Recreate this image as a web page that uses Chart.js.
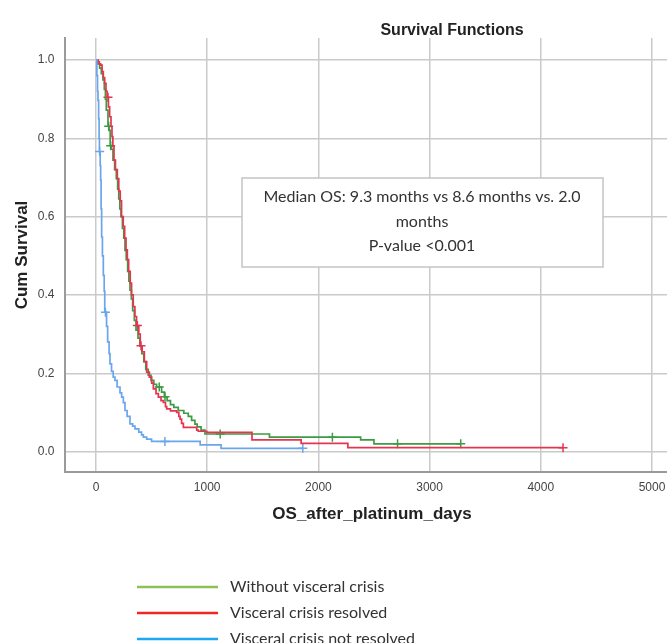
<!DOCTYPE html>
<html>
<head>
<meta charset="utf-8">
<script src="https://cdn.jsdelivr.net/npm/chart.js@4.4.1/dist/chart.umd.min.js"></script>
<style>
  html, body { margin: 0; background: #fff; overflow: hidden; }
  #wrap { width: 667px; height: 643px; position: relative; }
  #wrap canvas { display: block; }
</style>
</head>
<body>
<div id="wrap"><canvas id="myChart"></canvas></div>
<script>
// datos de las curvas (tiempo en dias, supervivencia acumulada)
const seriesNames = ["Without visceral crisis", "Visceral crisis resolved", "Visceral crisis not resolved"];

const greenT = [0,15,33,48,63,75,85,93,108,118,128,140,153,168,183,195,205,215,225,238,250,261,272,285,296,306,318,330,345,360,378,395,412,430,448,470,495,520,545,590,615,640,670,700,740,790,830,860,890,910,945,980,1560,2380,2500,3280];
const greenS = [1,0.99,0.979,0.965,0.949,0.925,0.9,0.872,0.831,0.82,0.781,0.772,0.744,0.72,0.697,0.67,0.645,0.62,0.6,0.57,0.545,0.514,0.49,0.46,0.435,0.412,0.39,0.36,0.335,0.31,0.29,0.27,0.25,0.23,0.21,0.195,0.182,0.172,0.165,0.152,0.14,0.13,0.12,0.113,0.105,0.098,0.09,0.08,0.07,0.063,0.055,0.045,0.037,0.03,0.02,0.02];
const greenCensT = [114,132,569,621,1117,2126,2712,3280];
const greenCensS = [0.831,0.781,0.165,0.14,0.045,0.037,0.02,0.02];

const redT = [0,18,30,42,55,66,78,90,100,112,123,135,144,152,162,175,192,205,218,230,245,258,270,282,294,308,320,335,350,365,385,398,415,435,456,480,501,516,540,561,585,606,625,636,670,726,745,756,770,786,906,920,996,1403,1845,2265,4200];
const redS = [1,0.995,0.99,0.987,0.97,0.955,0.94,0.92,0.905,0.88,0.855,0.83,0.804,0.78,0.744,0.72,0.697,0.665,0.64,0.6,0.575,0.545,0.515,0.49,0.46,0.43,0.4,0.37,0.345,0.322,0.3,0.27,0.255,0.23,0.203,0.19,0.175,0.16,0.148,0.139,0.13,0.126,0.115,0.109,0.104,0.1,0.09,0.083,0.072,0.062,0.055,0.052,0.049,0.03,0.021,0.01,0.01];
const redCensT = [108,372,405,4200];
const redCensS = [0.905,0.322,0.27,0.01];

const blueT = [0,8,14,18,24,28,31,38,42,46,51,58,66,74,79,95,105,118,126,140,155,171,190,216,231,246,261,280,306,330,351,385,410,426,456,500,937,1125,1860];
const blueS = [1,0.96,0.92,0.897,0.85,0.8,0.766,0.73,0.693,0.62,0.548,0.5,0.45,0.41,0.356,0.32,0.28,0.25,0.224,0.205,0.19,0.182,0.165,0.15,0.139,0.125,0.105,0.09,0.071,0.065,0.058,0.05,0.043,0.037,0.032,0.026,0.017,0.0085,0.0085];
const blueCensT = [33,85,620,1860];
const blueCensS = [0.766,0.356,0.026,0.0085];

const xTicks = [0, 1000, 2000, 3000, 4000, 5000];
const yTicks = [0, 0.2, 0.4, 0.6, 0.8, 1.0];

const noteLines = ["Median OS: 9.3 months vs 8.6 months vs. 2.0", "months", "P-value <0.001"];

// colores
const curveColors = ["#3d9a45", "#e4344f", "#6aa6ee"];
const legendColors = ["#8fc055", "#f22424", "#1ea6f0"];

function pts(t, s) {
  return t.map(function (v, i) { return { x: v, y: s[i] }; });
}

function lineSet(t, s, color) {
  return {
    data: pts(t, s),
    borderColor: color,
    borderWidth: 1.7,
    stepped: "before",
    pointRadius: 0,
    fill: false,
  };
}

function censSet(t, s, color) {
  return {
    data: pts(t, s),
    showLine: false,
    borderColor: color,
    backgroundColor: color,
    pointStyle: "cross",
    pointRadius: 4.5,
    pointBorderWidth: 1.5,
  };
}

// quita el relleno extra que chart.js deja para las etiquetas
function noPad(scale) {
  scale.paddingLeft = 0;
  scale.paddingRight = 0;
  scale.paddingTop = 0;
  scale.paddingBottom = 0;
}

// dibuja titulo, ejes, caja de texto y leyenda
const extras = {
  id: "extras",
  afterDraw: function (chart) {
    const c = chart.ctx;
    const area = chart.chartArea;
    c.save();
    c.fillStyle = "#222";
    c.textAlign = "center";
    c.textBaseline = "middle";

    c.font = "bold 16px 'Liberation Sans', Arial, sans-serif";
    c.fillText("Survival Functions", 452, 31);

    c.font = "bold 17px 'Liberation Sans', Arial, sans-serif";
    c.fillText("OS_after_platinum_days", 372, 514);

    c.save();
    c.translate(22, (area.top + area.bottom) / 2);
    c.rotate(-Math.PI / 2);
    c.fillText("Cum Survival", 0, 0);
    c.restore();

    // caja de la mediana
    c.fillStyle = "#fff";
    c.fillRect(242, 178, 361, 89);
    c.strokeStyle = "#c4c4c4";
    c.lineWidth = 1.5;
    c.strokeRect(242, 178, 361, 89);
    c.fillStyle = "#333";
    c.font = "16px Lato, 'Open Sans', sans-serif";
    noteLines.forEach(function (txt, i) {
      c.fillText(txt, 422, 197 + i * 24.5);
    });

    // leyenda
    c.textAlign = "left";
    c.lineWidth = 2.5;
    seriesNames.forEach(function (name, i) {
      const y = 587 + i * 26;
      c.strokeStyle = legendColors[i];
      c.beginPath();
      c.moveTo(137, y);
      c.lineTo(218, y);
      c.stroke();
      c.fillStyle = "#333";
      c.fillText(name, 230, y);
    });
    c.restore();
  },
};

const ctx = document.getElementById("myChart").getContext("2d");
const myChart = new Chart(ctx, {
  type: "line",
  data: {
    datasets: [
      lineSet(blueT, blueS, curveColors[2]),
      lineSet(redT, redS, curveColors[1]),
      lineSet(greenT, greenS, curveColors[0]),
      censSet(blueCensT, blueCensS, curveColors[2]),
      censSet(redCensT, redCensS, curveColors[1]),
      censSet(greenCensT, greenCensS, curveColors[0]),
    ],
  },
  options: {
    responsive: true,
    maintainAspectRatio: false,
    animation: false,
    layout: { autoPadding: false, padding: { top: 38, left: 0, right: 0, bottom: 0 } },
    plugins: {
      legend: { display: false },
      tooltip: { enabled: false },
    },
    scales: {
      x: {
        type: "linear",
        min: -283,
        max: 5135,
        afterBuildTicks: function (scale) {
          scale.ticks = xTicks.map(function (v) { return { value: v }; });
        },
        afterFit: function (scale) { scale.height = 171; noPad(scale); },
        ticks: {
          padding: 8,
          color: "#444",
          font: { family: "'Liberation Sans', Arial, sans-serif", size: 12 },
          callback: function (v) { return String(v); },
          maxRotation: 0,
        },
        grid: { color: "#cacaca", lineWidth: 1.5, drawTicks: false },
        border: { color: "#9a9a9a", width: 2 },
      },
      y: {
        type: "linear",
        min: -0.052,
        max: 1.056,
        afterBuildTicks: function (scale) {
          scale.ticks = yTicks.map(function (v) { return { value: v }; });
        },
        afterFit: function (scale) { scale.width = 64.5; noPad(scale); },
        ticks: {
          padding: 10,
          color: "#444",
          font: { family: "'Liberation Sans', Arial, sans-serif", size: 12 },
          callback: function (v) { return Number(v).toFixed(1); },
        },
        grid: { color: "#cacaca", lineWidth: 1.5, drawTicks: false },
        border: { color: "#9a9a9a", width: 2 },
      },
    },
  },
  plugins: [extras],
});
</script>
</body>
</html>
